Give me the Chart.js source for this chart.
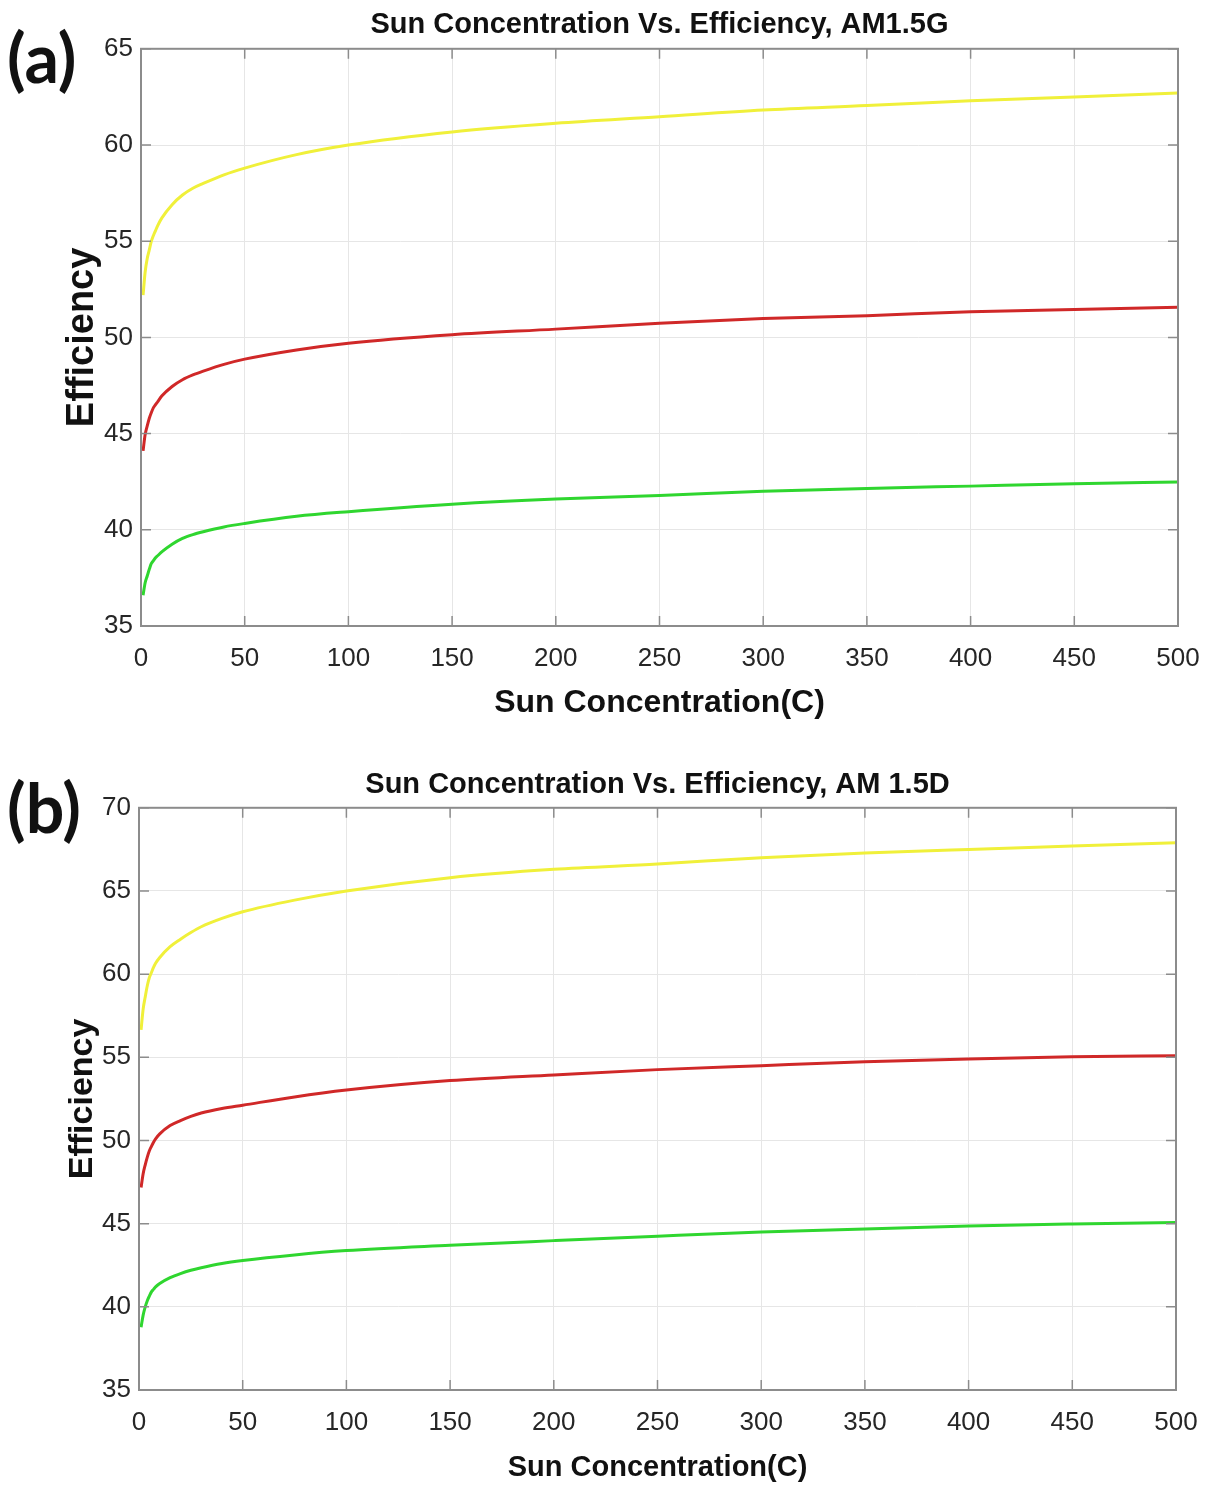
<!DOCTYPE html>
<html>
<head>
<meta charset="utf-8">
<script src="https://cdn.jsdelivr.net/npm/chart.js@4.4.1/dist/chart.umd.min.js"></script>
<style>
  body { margin: 0; background: #fff; }
  #wrap { position: relative; width: 1207px; height: 1486px; overflow: hidden; }
  canvas { position: absolute; left: 0; }
  .tag { position: absolute; left: 7px; font: bold 68px Lato, "Noto Sans", sans-serif; color: #111; line-height: 1; }
</style>
</head>
<body>
<div id="wrap">
  <div class="tag" style="top:23px">(a)</div>
  <div class="tag" style="top:773px">(b)</div>
  <canvas id="chartA" width="1207" height="740" style="top:0"></canvas>
  <canvas id="chartB" width="1207" height="726" style="top:760px"></canvas>
</div>
<script>
// sun concentration (x values)
const concentration = [1, 2, 3, 4, 5, 6, 7, 8, 10, 15, 20, 25, 30, 40, 50, 75, 100, 150, 200, 250, 300, 350, 400, 450, 500];

// (a) AM1.5G
const gYellow = [52.2, 53.4, 54.1, 54.55, 55.0, 55.3, 55.55, 55.8, 56.2, 56.9, 57.4, 57.75, 58.0, 58.45, 58.8, 59.5, 60.0, 60.68, 61.13, 61.47, 61.82, 62.05, 62.3, 62.5, 62.7];
const gRed    = [44.1, 44.95, 45.4, 45.8, 46.1, 46.35, 46.5, 46.65, 46.95, 47.45, 47.8, 48.05, 48.25, 48.6, 48.87, 49.35, 49.7, 50.14, 50.43, 50.74, 50.98, 51.13, 51.33, 51.45, 51.57];
const gGreen  = [36.6, 37.25, 37.6, 37.95, 38.25, 38.4, 38.55, 38.65, 38.85, 39.25, 39.55, 39.75, 39.9, 40.15, 40.33, 40.7, 40.94, 41.33, 41.6, 41.78, 42.0, 42.15, 42.27, 42.39, 42.49];

// (b) AM 1.5D
const dYellow = [56.65, 57.9, 58.63, 59.3, 59.8, 60.1, 60.4, 60.65, 61.0, 61.65, 62.1, 62.5, 62.85, 63.35, 63.75, 64.45, 65.0, 65.8, 66.3, 66.62, 67.0, 67.28, 67.5, 67.7, 67.9];
const dRed    = [47.17, 48.0, 48.54, 49.0, 49.38, 49.65, 49.9, 50.1, 50.4, 50.9, 51.2, 51.45, 51.65, 51.92, 52.12, 52.62, 53.03, 53.6, 53.94, 54.26, 54.5, 54.73, 54.9, 55.03, 55.1];
const dGreen  = [38.77, 39.5, 40.0, 40.37, 40.65, 40.9, 41.05, 41.2, 41.4, 41.75, 42.0, 42.2, 42.35, 42.6, 42.78, 43.12, 43.38, 43.7, 43.98, 44.25, 44.5, 44.68, 44.86, 44.98, 45.07];

const xMin = 0, xMax = 500, xStep = 50;

const plain = "'Liberation Sans', Arial, sans-serif";

// matlab style box + inward tick marks
const matlabBox = {
  id: 'matlabBox',
  afterDatasetsDraw(chart) {
    const {ctx, chartArea: a, scales} = chart;
    ctx.save();
    ctx.strokeStyle = '#8c8c8c';
    ctx.lineWidth = 1.5;
    ctx.beginPath();
    scales.x.ticks.forEach(t => {
      const px = scales.x.getPixelForValue(t.value);
      ctx.moveTo(px, a.bottom); ctx.lineTo(px, a.bottom - 10);
      ctx.moveTo(px, a.top); ctx.lineTo(px, a.top + 10);
    });
    scales.y.ticks.forEach(t => {
      const py = scales.y.getPixelForValue(t.value);
      ctx.moveTo(a.left, py); ctx.lineTo(a.left + 10, py);
      ctx.moveTo(a.right, py); ctx.lineTo(a.right - 10, py);
    });
    ctx.stroke();
    ctx.lineWidth = 2;
    ctx.strokeRect(a.left, a.top, a.right - a.left, a.bottom - a.top);
    ctx.restore();
  }
};

function series(values, color) {
  return {
    data: concentration.map((c, i) => ({x: c, y: values[i]})),
    borderColor: color,
    borderWidth: 3,
    pointRadius: 0,
    cubicInterpolationMode: 'monotone',
    fill: false
  };
}

function makeChart(id, cfg) {
  return new Chart(document.getElementById(id), {
    type: 'line',
    data: {
      datasets: [
        series(cfg.yellow, '#f0f03a'),
        series(cfg.red, '#d02828'),
        series(cfg.green, '#2fd62f')
      ]
    },
    options: {
      responsive: false,
      animation: false,
      layout: { padding: { top: 0, left: 0, right: cfg.padRight, bottom: 0 } },
      plugins: {
        legend: { display: false },
        tooltip: { enabled: false },
        title: {
          display: true,
          text: cfg.title,
          fullSize: false,
          color: '#111',
          font: { family: plain, size: 29, weight: 'bold' },
          padding: { top: 8, bottom: cfg.titleBottom }
        }
      },
      scales: {
        x: {
          type: 'linear',
          min: xMin, max: xMax,
          ticks: { stepSize: xStep, color: '#262626', font: { family: plain, size: 26 }, padding: 17, maxRotation: 0 },
          grid: { color: '#e6e6e6', lineWidth: 1, drawTicks: false },
          border: { display: false },
          title: {
            display: true,
            text: 'Sun Concentration(C)',
            color: '#111',
            font: { family: plain, size: cfg.xTitleSize, weight: 'bold' },
            padding: { top: 0, bottom: cfg.xTitlePad }
          },
          afterFit(s) {
            s.height = cfg.xHeight;
            // let layout.padding alone set the right edge
            s.paddingLeft = 0;
            s.paddingRight = 0;
          }
        },
        y: {
          min: cfg.yMin, max: cfg.yMax,
          ticks: { stepSize: 5, color: '#262626', font: { family: plain, size: 26 }, padding: 8 },
          grid: { color: '#e6e6e6', lineWidth: 1, drawTicks: false },
          border: { display: false },
          title: {
            display: true,
            text: 'Efficiency',
            color: '#111',
            font: { family: plain, size: cfg.yTitleSize, weight: 'bold' },
            padding: { top: cfg.yTitlePad, bottom: 0 }
          },
          afterFit(s) { s.width = cfg.yWidth; }
        }
      }
    },
    plugins: [matlabBox]
  });
}

makeChart('chartA', {
  title: 'Sun Concentration Vs. Efficiency, AM1.5G',
  yellow: gYellow, red: gRed, green: gGreen,
  yMin: 35, yMax: 65,
  padRight: 29, titleBottom: 6,
  xHeight: 114, xTitleSize: 32, xTitlePad: 18,
  yWidth: 141, yTitleSize: 38, yTitlePad: 60
});

makeChart('chartB', {
  title: 'Sun Concentration Vs. Efficiency, AM 1.5D',
  yellow: dYellow, red: dRed, green: dGreen,
  yMin: 35, yMax: 70,
  padRight: 31, titleBottom: 5,
  xHeight: 96, xTitleSize: 29, xTitlePad: 1,
  yWidth: 139, yTitleSize: 34, yTitlePad: 62
});
</script>
</body>
</html>
